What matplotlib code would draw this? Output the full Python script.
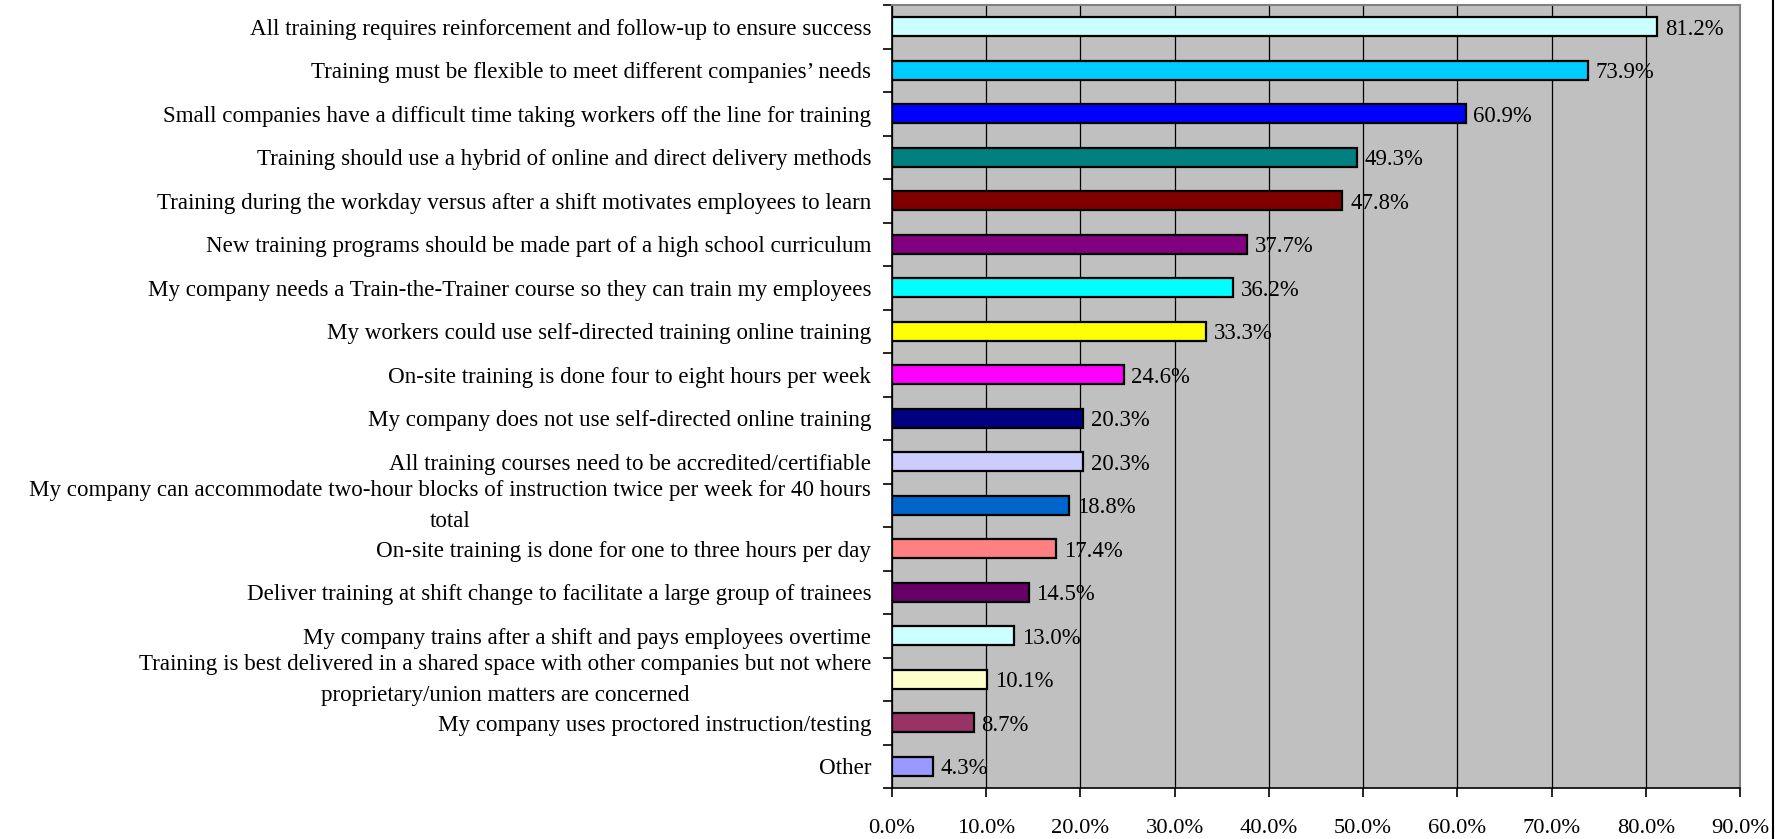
import matplotlib
matplotlib.use("Agg")
import matplotlib.pyplot as plt
from matplotlib.ticker import FixedLocator, PercentFormatter, NullFormatter
from matplotlib.lines import Line2D

categories = [
    "All training requires reinforcement and follow-up to ensure success",
    "Training must be flexible to meet different companies\u2019 needs",
    "Small companies have a difficult time taking workers off the line for training",
    "Training should use a hybrid of online and direct delivery methods",
    "Training during the workday versus after a shift motivates employees to learn",
    "New training programs should be made part of a high school curriculum",
    "My company needs a Train-the-Trainer course so they can train my employees",
    "My workers could use self-directed training online training",
    "On-site training is done four to eight hours per week",
    "My company does not use self-directed online training",
    "All training courses need to be accredited/certifiable",
    "My company can accommodate two-hour blocks of instruction twice per week for 40 hours\ntotal",
    "On-site training is done for one to three hours per day",
    "Deliver training at shift change to facilitate a large group of trainees",
    "My company trains after a shift and pays employees overtime",
    "Training is best delivered in a shared space with other companies but not where\nproprietary/union matters are concerned",
    "My company uses proctored instruction/testing",
    "Other",
]
values = [81.2, 73.9, 60.9, 49.3, 47.8, 37.7, 36.2, 33.3, 24.6,
          20.3, 20.3, 18.8, 17.4, 14.5, 13.0, 10.1, 8.7, 4.3]
colors = ["#CCFFFF", "#00CCFF", "#0000FF", "#008080", "#800000", "#800080",
          "#00FFFF", "#FFFF00", "#FF00FF", "#000080", "#CCCCFF", "#0066CC",
          "#FF8080", "#660066", "#CCFFFF", "#FFFFCC", "#993366", "#9999FF"]
x_ticks = [0, 10, 20, 30, 40, 50, 60, 70, 80, 90]

plt.rcParams["font.family"] = ["Liberation Serif", "DejaVu Serif"]
FS_LABEL = 16.6
FS_VALUE = 16.4
FS_TICK = 16.2

fig = plt.figure(figsize=(17.77, 8.39), dpi=100)
ax = fig.add_axes([892 / 1777, 51 / 839, (1740 - 892) / 1777, (834 - 51) / 839])
ax.set_facecolor("#C0C0C0")

pos = list(range(len(categories)))
ax.barh(pos, values, height=0.44, color=colors, edgecolor="black",
        linewidth=1.6, zorder=3)

# value labels at the end of each bar
for p, v in zip(pos, values):
    ax.annotate(f"{v:.1f}%", (v, p), xytext=(5.5, 0), textcoords="offset points",
                va="center_baseline", ha="left", fontsize=FS_VALUE, zorder=4)

# category labels to the left of the axis; wrapped ones sit a little higher
ytrans = ax.get_yaxis_transform()
for p, label in zip(pos, categories):
    lift = 5 if "\n" in label else 0
    ax.annotate(label, (0, p), xycoords=ytrans, xytext=(-15, lift),
                textcoords="offset points", ha="right", va="center_baseline",
                multialignment="center", linespacing=1.65, fontsize=FS_LABEL)

ax.set_xlim(0, 90)
ax.set_ylim(len(categories) - 0.5, -0.5)
ax.xaxis.set_major_locator(FixedLocator(x_ticks))
ax.xaxis.set_major_formatter(PercentFormatter(decimals=1))
ax.grid(axis="x", color="black", linewidth=0.9, zorder=1)

ax.set_yticks([])
ax.set_yticks([p - 0.5 for p in pos] + [len(pos) - 0.5], minor=True)
ax.yaxis.set_minor_formatter(NullFormatter())
ax.tick_params(axis="y", which="minor", length=6.5, width=1.2, direction="out")
ax.tick_params(axis="x", which="major", length=6.5, width=1.2, direction="out",
               labelsize=FS_TICK, pad=16)

for side in ("top", "right"):
    ax.spines[side].set_color("#808080")
    ax.spines[side].set_linewidth(1.5)
for side in ("left", "bottom"):
    ax.spines[side].set_color("black")
    ax.spines[side].set_linewidth(1.2)

fig.add_artist(Line2D([1773 / 1777, 1773 / 1777], [0, 1], color="black",
                      linewidth=1.5, transform=fig.transFigure))

fig.savefig("out.png", dpi=100)
